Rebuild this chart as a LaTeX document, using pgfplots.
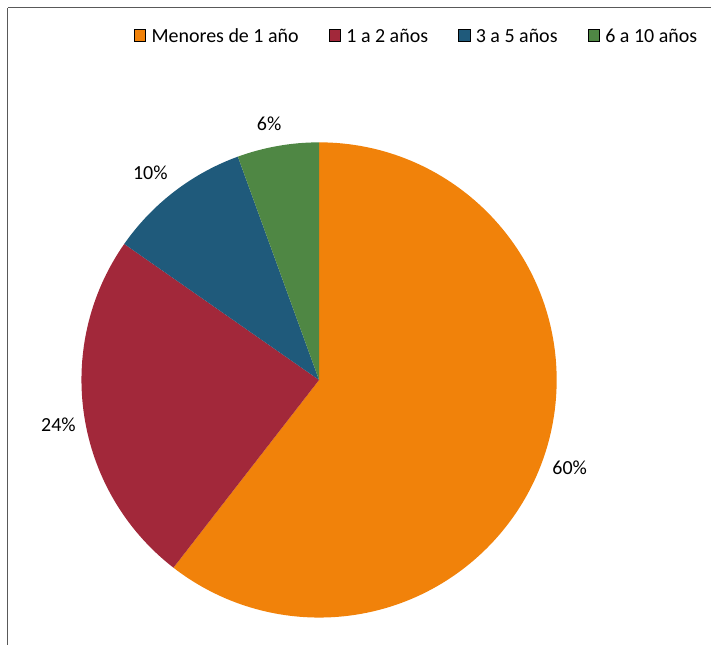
\documentclass[border={3.5pt 0pt 0pt 3.5pt}]{standalone}
\usepackage{pgfplots}
\pgfplotsset{compat=1.18}
\usepackage{fontspec}
\setmainfont{Carlito}

\definecolor{cMenor}{HTML}{F1820A}
\definecolor{cUno}{HTML}{A2283A}
\definecolor{cTres}{HTML}{1F5A7B}
\definecolor{cSeis}{HTML}{4F8744}

\begin{document}
\begin{tikzpicture}
\begin{axis}[
    scale only axis,
    width=352.5pt, height=319pt,
    xmin=7, xmax=712, ymin=-645, ymax=-7,
    axis x line*=top, axis y line*=left,
    xtick=\empty, ytick=\empty,
    axis line style={gray!70!black, line width=0.6pt},
    clip=false,
    legend columns=4,
    legend style={draw=none, fill=none, at={(axis cs:127,-37)}, anchor=west,
        font=\fontsize{10}{12}\selectfont,
        nodes={inner sep=1.5pt},
        /tikz/every even column/.append style={column sep=13.5pt}},
    legend image code/.code={\fill[#1] (0pt,-1.75pt) rectangle (5.75pt,4pt);
        \path (7pt,0pt);},
]
    \addlegendimage{fill=cMenor}
    \addlegendentry{Menores de 1 año}
    \addlegendimage{fill=cUno}
    \addlegendentry{1 a 2 años}
    \addlegendimage{fill=cTres}
    \addlegendentry{3 a 5 años}
    \addlegendimage{fill=cSeis}
    \addlegendentry{6 a 10 años}

    % centre (319,-380), radius 238 units = 119pt; 1% = 3.6 degrees
    % shares: 60.5, 24.2, 9.75, 5.55
    \fill[cMenor] (axis cs:319,-380) -- ++(90:119pt)
        arc[start angle=90, delta angle={-3.6*60.5}, radius=119pt] -- cycle;
    \fill[cUno] (axis cs:319,-380) -- ++(-127.8:119pt)
        arc[start angle=-127.8, delta angle={-3.6*24.2}, radius=119pt] -- cycle;
    \fill[cTres] (axis cs:319,-380) -- ++(-214.92:119pt)
        arc[start angle=-214.92, delta angle={-3.6*9.75}, radius=119pt] -- cycle;
    \fill[cSeis] (axis cs:319,-380) -- ++(-250.02:119pt)
        arc[start angle=-250.02, delta angle={-3.6*5.55}, radius=119pt] -- cycle;

    \node[font=\fontsize{10}{12}\selectfont] at (axis cs:269,-123) {6\%};
    \node[font=\fontsize{10}{12}\selectfont] at (axis cs:150,-172) {10\%};
    \node[font=\fontsize{10}{12}\selectfont] at (axis cs:58,-425) {24\%};
    \node[font=\fontsize{10}{12}\selectfont] at (axis cs:570,-468) {60\%};
\end{axis}
\end{tikzpicture}
\end{document}
